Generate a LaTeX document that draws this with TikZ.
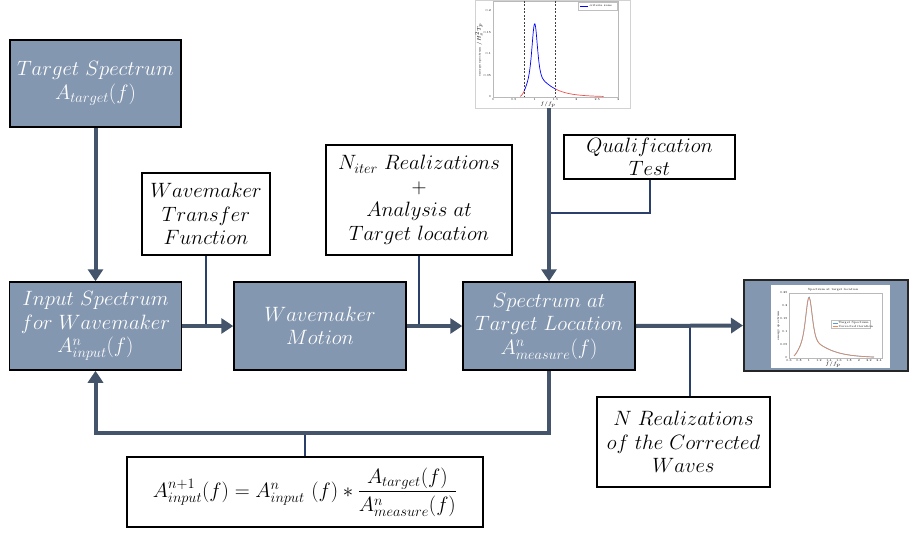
\documentclass[tikz,border=0pt]{standalone}
\usepackage{amsmath}
\usetikzlibrary{arrows.meta,calc}
\definecolor{boxfill}{HTML}{8497B0}
\definecolor{flow}{HTML}{44546A}
\definecolor{wire}{HTML}{2B3F6B}
\definecolor{curvered}{HTML}{F0504A}
\definecolor{curveorange}{HTML}{EE8A5A}
\definecolor{curveblue}{HTML}{5A9BD5}

\begin{document}
\begin{tikzpicture}[x=1pt,y=-1pt,
  declare function={spec(\f)=0.18/(\f^5)*exp(-1.25/(\f^4))*exp(1.19392*exp(-min(((\f-1)^2)/0.0128,20)));},
  txt/.style={font=\fontsize{20.5}{23.5}\selectfont, align=center},
  darkbox/.style={txt, draw=black, line width=1.5pt, fill=boxfill, text=white,
    minimum width=172pt, minimum height=88pt, inner sep=0pt},
  whitebox/.style={txt, draw=black, line width=1.5pt, fill=white, inner sep=0pt},
  flowline/.style={draw=flow, line width=4pt},
  flowarrow/.style={flowline, -{Triangle[length=12pt,width=15pt]}},
  wireline/.style={draw=wire, line width=2pt},
  tinyfont/.style={font=\fontsize{3}{3.5}\selectfont, inner sep=0.3pt},
]
\useasboundingbox (0,0) rectangle (909,535);

% ---------- process blocks ----------
\node[darkbox, minimum width=171pt, minimum height=87pt] (target) at (95.5,83.5)
  {$Target\ Spectrum$\\$A_{target}(f)$};
\node[darkbox] (input) at (95.5,326)
  {$Input\ Spectrum$\\$for\ Wavemaker$\\$A^{n}_{input}(f)$};
\node[darkbox] (motion) at (320,326) {$Wavemaker$\\$Motion$};
\node[darkbox] (spec) at (549,326)
  {$Spectrum\ at$\\$Target\ Location$\\$A^{n}_{measure}(f)$};

% ---------- side inputs ----------
\node[whitebox, minimum width=128pt, minimum height=82pt] (wtf) at (206,214)
  {$Wavemaker$\\$Transfer$\\$Function$};
\node[whitebox, minimum width=186pt, minimum height=110pt] (niter) at (419,200)
  {$N_{iter}\ Realizations$\\$+$\\$Analysis\ at$\\$Target\ location$};
\node[whitebox, minimum width=171pt, minimum height=44pt] (qual) at (649.5,157)
  {$Qualification$\\$Test$};
\node[whitebox, minimum width=173pt, minimum height=90pt] (nreal) at (683.5,442)
  {$N\ Realizations$\\$of\ the\ Corrected$\\$Waves$};
\node[whitebox, minimum width=356pt, minimum height=70pt,
  font=\fontsize{22}{26}\selectfont] (formula) at (305,492)
  {$A^{n+1}_{input}(f) = A^{n}_{input}\ (f) * \dfrac{A_{target}(f)}{A^{n}_{measure}(f)}$};

% ---------- criteria-zone spectrum plot ----------
\node[draw=gray!35, line width=0.5pt, fill=white, minimum width=155pt,
  minimum height=108pt, inner sep=0pt] (topplot) at (552.5,54) {};
\draw[gray!55, line width=0.3pt] (493,1) rectangle (618,97);
\foreach \v/\l in {0/0,0.5/0.5,1/1,1.5/1.5,2/2,2.5/2.5,3/3}
  \node[tinyfont, anchor=north] at ({493+41.7*\v},98.5) {\l};
\foreach \v/\l in {0/0,0.05/0.05,0.1/0.1,0.15/0.15,0.2/0.2}
  \node[tinyfont, anchor=east] at (491.5,{97-430*\v}) {\l};
\node[tinyfont, rotate=90] at (479,50) {energy spectrum $/H_s^2T_p$};
\node[tinyfont] at (548,105) {$f/f_p$};
\draw[black!75, line width=0.6pt, dash pattern=on 2pt off 1.5pt]
  ({493+41.7*0.75},1) -- ({493+41.7*0.75},97)
  ({493+41.7*1.5},1) -- ({493+41.7*1.5},97);
\draw[curvered, line width=0.7pt] plot[domain=0.65:0.75, samples=12, variable=\f]
  ({493+41.7*\f},{97-430*spec(\f)});
\draw[curvered, line width=0.7pt] plot[domain=1.5:2.65, samples=40, variable=\f]
  ({493+41.7*\f},{97-430*spec(\f)});
\draw[blue, line width=0.7pt] plot[domain=0.75:1.5, samples=90, variable=\f]
  ({493+41.7*\f},{97-430*spec(\f)});
\draw[gray!50, line width=0.3pt, fill=white] (578,2) rectangle (617,10);
\draw[blue, line width=0.7pt] (580,6) -- (588,6);
\node[tinyfont, anchor=west] at (589,6) {criteria zone};

% ---------- resulting spectrum snapshot ----------
\node[draw=black!85, line width=2pt, fill=boxfill, minimum width=164pt,
  minimum height=91pt, inner sep=0pt] (result) at (826,325.5) {};
\fill[white] (771,285) rectangle (890,368);
\draw[gray!55, line width=0.3pt] (789,293) rectangle (882,358);
\node[tinyfont] at (833,289.5) {Spectrum at target location};
\foreach \v/\l in {0.6/0.6,0.8/0.8,1/1,1.2/1.2,1.4/1.4,1.6/1.6,1.8/1.8,2/2,2.2/2.2,2.4/2.4}
  \node[tinyfont, anchor=north] at ({789+50*(\v-0.6)},359) {\l};
\foreach \v/\l in {0/0,0.05/0.05,0.1/0.1,0.15/0.15,0.2/0.2,0.25/0.25}
  \node[tinyfont, anchor=east] at (788,{358-260*\v}) {\l};
\node[tinyfont, rotate=90] at (778.5,326) {energy spectrum};
\node[tinyfont] at (833,365) {$f/f_p$};
\draw[curveblue, line width=0.7pt] plot[domain=0.7:2.3, samples=90, variable=\f]
  ({789+50*(\f-0.6)},{358-358.8*spec(\f)});
\draw[curveorange, line width=0.6pt] plot[domain=0.7:2.3, samples=90, variable=\f]
  ({789+50*(\f-0.6)},{358-356*spec(\f)});
\draw[gray!50, line width=0.3pt, fill=white] (831,320.5) rectangle (870,328.5);
\draw[curveblue, line width=0.6pt] (832.5,322.8) -- (837.5,322.8);
\node[tinyfont, anchor=west] at (838,322.8) {Target Spectrum};
\draw[curveorange, line width=0.6pt] (832.5,326.2) -- (837.5,326.2);
\node[tinyfont, anchor=west] at (838,326.2) {Corrected iteration};

% ---------- thin feeder lines ----------
\coordinate (qjoin) at (spec.north |- 0,213);
\coordinate (fbturn) at (spec.south |- 0,433);
\draw[wireline] (wtf.south) -- (wtf.south |- input.east);
\draw[wireline] (niter.south) -- (niter.south |- motion.east);
\draw[wireline] (qual.south) |- (qjoin);
\draw[wireline] ([xshift=6.5pt]nreal.north) -- ([xshift=6.5pt]nreal.north |- spec.east);
\draw[wireline] (formula.north) -- (formula.north |- fbturn);

% ---------- main flow ----------
\draw[flowarrow] (target.south) -- (input.north);
\draw[flowarrow] (input.east) -- (motion.west);
\draw[flowarrow] (motion.east) -- (spec.west);
\draw[flowarrow] (spec.east) -- (result.west);
\draw[flowarrow] (spec.north |- topplot.south) -- (spec.north);
\draw[flowarrow] (spec.south) -- (fbturn) -| (input.south);
\end{tikzpicture}
\end{document}
